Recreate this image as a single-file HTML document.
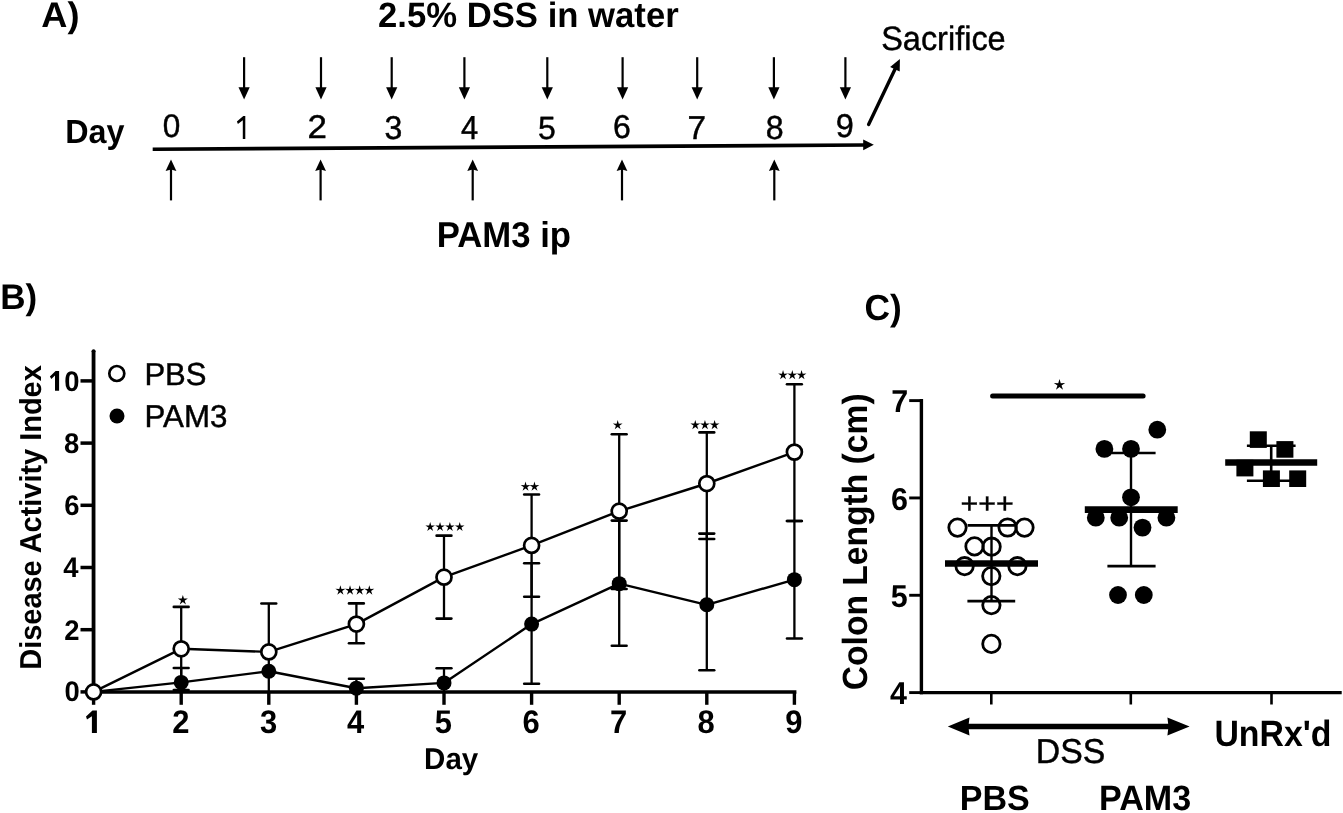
<!DOCTYPE html>
<html><head><meta charset="utf-8"><title>Figure</title>
<style>html,body{margin:0;padding:0;background:#fff;overflow:hidden}svg{display:block;will-change:transform}text{text-rendering:geometricPrecision;font-family:"Liberation Sans", sans-serif;fill:#000}</style>
</head><body>
<svg width="1343" height="813" viewBox="0 0 1343 813">
<defs><filter id="bl" x="-20%" y="-20%" width="140%" height="140%"><feGaussianBlur stdDeviation="0.5"/></filter></defs>
<rect width="1343" height="813" fill="#fff"/>
<line x1="152.70" y1="149.28" x2="865.00" y2="145.01" stroke="#000" stroke-width="3.6" stroke-linecap="butt"/>
<polygon points="873.80,144.80 863.20,139.40 863.20,150.20" fill="#000"/>
<line x1="244.10" y1="57.20" x2="244.10" y2="90.00" stroke="#000" stroke-width="2.2" stroke-linecap="butt"/>
<polygon points="238.50,87.30 249.70,87.30 244.10,99.60" fill="#000"/>
<line x1="321.00" y1="57.20" x2="321.00" y2="90.00" stroke="#000" stroke-width="2.2" stroke-linecap="butt"/>
<polygon points="315.40,87.30 326.60,87.30 321.00,99.60" fill="#000"/>
<line x1="391.70" y1="57.20" x2="391.70" y2="90.00" stroke="#000" stroke-width="2.2" stroke-linecap="butt"/>
<polygon points="386.10,87.30 397.30,87.30 391.70,99.60" fill="#000"/>
<line x1="464.40" y1="57.20" x2="464.40" y2="90.00" stroke="#000" stroke-width="2.2" stroke-linecap="butt"/>
<polygon points="458.80,87.30 470.00,87.30 464.40,99.60" fill="#000"/>
<line x1="547.30" y1="57.20" x2="547.30" y2="90.00" stroke="#000" stroke-width="2.2" stroke-linecap="butt"/>
<polygon points="541.70,87.30 552.90,87.30 547.30,99.60" fill="#000"/>
<line x1="622.60" y1="57.20" x2="622.60" y2="90.00" stroke="#000" stroke-width="2.2" stroke-linecap="butt"/>
<polygon points="617.00,87.30 628.20,87.30 622.60,99.60" fill="#000"/>
<line x1="697.20" y1="57.20" x2="697.20" y2="90.00" stroke="#000" stroke-width="2.2" stroke-linecap="butt"/>
<polygon points="691.60,87.30 702.80,87.30 697.20,99.60" fill="#000"/>
<line x1="773.90" y1="57.20" x2="773.90" y2="90.00" stroke="#000" stroke-width="2.2" stroke-linecap="butt"/>
<polygon points="768.30,87.30 779.50,87.30 773.90,99.60" fill="#000"/>
<line x1="845.40" y1="57.20" x2="845.40" y2="90.00" stroke="#000" stroke-width="2.2" stroke-linecap="butt"/>
<polygon points="839.80,87.30 851.00,87.30 845.40,99.60" fill="#000"/>
<line x1="171.00" y1="168.00" x2="171.00" y2="200.40" stroke="#000" stroke-width="2.2" stroke-linecap="butt"/>
<polygon points="165.60,171.00 171.00,169.60 176.40,171.00 171.00,159.40" fill="#000"/>
<line x1="320.60" y1="168.00" x2="320.60" y2="200.40" stroke="#000" stroke-width="2.2" stroke-linecap="butt"/>
<polygon points="315.20,171.00 320.60,169.60 326.00,171.00 320.60,159.40" fill="#000"/>
<line x1="472.70" y1="168.00" x2="472.70" y2="200.40" stroke="#000" stroke-width="2.2" stroke-linecap="butt"/>
<polygon points="467.30,171.00 472.70,169.60 478.10,171.00 472.70,159.40" fill="#000"/>
<line x1="622.00" y1="168.00" x2="622.00" y2="200.40" stroke="#000" stroke-width="2.2" stroke-linecap="butt"/>
<polygon points="616.60,171.00 622.00,169.60 627.40,171.00 622.00,159.40" fill="#000"/>
<line x1="774.30" y1="168.00" x2="774.30" y2="200.40" stroke="#000" stroke-width="2.2" stroke-linecap="butt"/>
<polygon points="768.90,171.00 774.30,169.60 779.70,171.00 774.30,159.40" fill="#000"/>
<line x1="868.60" y1="124.40" x2="895.80" y2="67.47" stroke="#000" stroke-width="3.4" stroke-linecap="round"/>
<polygon points="899.90,58.90 899.72,71.56 890.16,66.99" fill="#000"/>
<polygon points="245.30,115.90 245.30,139.10 242.80,139.10 242.80,120.30 237.90,123.90 236.90,121.60 243.30,115.90" fill="#000"/>
<line x1="93.55" y1="350.50" x2="93.55" y2="693.60" stroke="#000" stroke-width="3.8" stroke-linecap="butt"/>
<circle cx="93.55" cy="351.2" r="1.9" fill="#000"/>
<line x1="91.70" y1="692.00" x2="796.40" y2="692.00" stroke="#000" stroke-width="3.4" stroke-linecap="butt"/>
<line x1="80.50" y1="691.90" x2="93.55" y2="691.90" stroke="#000" stroke-width="3.5" stroke-linecap="butt"/>
<line x1="80.50" y1="629.70" x2="93.55" y2="629.70" stroke="#000" stroke-width="3.5" stroke-linecap="butt"/>
<line x1="80.50" y1="567.50" x2="93.55" y2="567.50" stroke="#000" stroke-width="3.5" stroke-linecap="butt"/>
<line x1="80.50" y1="505.30" x2="93.55" y2="505.30" stroke="#000" stroke-width="3.5" stroke-linecap="butt"/>
<line x1="80.50" y1="443.10" x2="93.55" y2="443.10" stroke="#000" stroke-width="3.5" stroke-linecap="butt"/>
<line x1="80.50" y1="380.90" x2="93.55" y2="380.90" stroke="#000" stroke-width="3.5" stroke-linecap="butt"/>
<line x1="93.60" y1="692.00" x2="93.60" y2="704.80" stroke="#000" stroke-width="3.4" stroke-linecap="butt"/>
<line x1="181.20" y1="692.00" x2="181.20" y2="704.80" stroke="#000" stroke-width="3.4" stroke-linecap="butt"/>
<line x1="268.80" y1="692.00" x2="268.80" y2="704.80" stroke="#000" stroke-width="3.4" stroke-linecap="butt"/>
<line x1="356.40" y1="692.00" x2="356.40" y2="704.80" stroke="#000" stroke-width="3.4" stroke-linecap="butt"/>
<line x1="444.00" y1="692.00" x2="444.00" y2="704.80" stroke="#000" stroke-width="3.4" stroke-linecap="butt"/>
<line x1="531.60" y1="692.00" x2="531.60" y2="704.80" stroke="#000" stroke-width="3.4" stroke-linecap="butt"/>
<line x1="619.20" y1="692.00" x2="619.20" y2="704.80" stroke="#000" stroke-width="3.4" stroke-linecap="butt"/>
<line x1="706.80" y1="692.00" x2="706.80" y2="704.80" stroke="#000" stroke-width="3.4" stroke-linecap="butt"/>
<line x1="794.40" y1="692.00" x2="794.40" y2="704.80" stroke="#000" stroke-width="3.4" stroke-linecap="butt"/>
<polygon points="59.10,371.00 59.10,390.70 55.00,390.70 55.00,375.60 51.30,379.00 49.90,376.60 55.60,371.00" fill="#000"/>
<polygon points="96.90,710.50 96.90,733.10 91.90,733.10 91.90,716.30 87.00,719.50 86.00,716.50 92.50,710.50" fill="#000"/>
<circle cx="116.80" cy="373.50" r="7.5" fill="#fff" stroke="#000" stroke-width="2.7"/>
<circle cx="117.00" cy="416.00" r="7.5" fill="#000"/>
<line x1="181.20" y1="648.80" x2="181.20" y2="606.90" stroke="#000" stroke-width="2.3" stroke-linecap="butt"/>
<line x1="173.80" y1="606.90" x2="188.60" y2="606.90" stroke="#000" stroke-width="2.6" stroke-linecap="round"/>
<line x1="181.20" y1="648.80" x2="181.20" y2="690.00" stroke="#000" stroke-width="2.3" stroke-linecap="butt"/>
<line x1="173.80" y1="690.00" x2="188.60" y2="690.00" stroke="#000" stroke-width="2.6" stroke-linecap="round"/>
<line x1="181.20" y1="682.41" x2="181.20" y2="668.00" stroke="#000" stroke-width="2.3" stroke-linecap="butt"/>
<line x1="173.80" y1="668.00" x2="188.60" y2="668.00" stroke="#000" stroke-width="2.6" stroke-linecap="round"/>
<line x1="268.80" y1="651.91" x2="268.80" y2="603.50" stroke="#000" stroke-width="2.3" stroke-linecap="butt"/>
<line x1="261.40" y1="603.50" x2="276.20" y2="603.50" stroke="#000" stroke-width="2.6" stroke-linecap="round"/>
<line x1="356.40" y1="624.10" x2="356.40" y2="603.40" stroke="#000" stroke-width="2.3" stroke-linecap="butt"/>
<line x1="349.00" y1="603.40" x2="363.80" y2="603.40" stroke="#000" stroke-width="2.6" stroke-linecap="round"/>
<line x1="356.40" y1="624.10" x2="356.40" y2="643.30" stroke="#000" stroke-width="2.3" stroke-linecap="butt"/>
<line x1="349.00" y1="643.30" x2="363.80" y2="643.30" stroke="#000" stroke-width="2.6" stroke-linecap="round"/>
<line x1="356.40" y1="688.17" x2="356.40" y2="678.80" stroke="#000" stroke-width="2.3" stroke-linecap="butt"/>
<line x1="349.00" y1="678.80" x2="363.80" y2="678.80" stroke="#000" stroke-width="2.6" stroke-linecap="round"/>
<line x1="444.00" y1="577.14" x2="444.00" y2="535.65" stroke="#000" stroke-width="2.3" stroke-linecap="butt"/>
<line x1="436.60" y1="535.65" x2="451.40" y2="535.65" stroke="#000" stroke-width="2.6" stroke-linecap="round"/>
<line x1="444.00" y1="577.14" x2="444.00" y2="618.60" stroke="#000" stroke-width="2.3" stroke-linecap="butt"/>
<line x1="436.60" y1="618.60" x2="451.40" y2="618.60" stroke="#000" stroke-width="2.6" stroke-linecap="round"/>
<line x1="444.00" y1="682.88" x2="444.00" y2="668.30" stroke="#000" stroke-width="2.3" stroke-linecap="butt"/>
<line x1="436.60" y1="668.30" x2="451.40" y2="668.30" stroke="#000" stroke-width="2.6" stroke-linecap="round"/>
<line x1="531.60" y1="545.42" x2="531.60" y2="494.50" stroke="#000" stroke-width="2.3" stroke-linecap="butt"/>
<line x1="524.20" y1="494.50" x2="539.00" y2="494.50" stroke="#000" stroke-width="2.6" stroke-linecap="round"/>
<line x1="531.60" y1="545.42" x2="531.60" y2="596.80" stroke="#000" stroke-width="2.3" stroke-linecap="butt"/>
<line x1="524.20" y1="596.80" x2="539.00" y2="596.80" stroke="#000" stroke-width="2.6" stroke-linecap="round"/>
<line x1="531.60" y1="624.10" x2="531.60" y2="563.20" stroke="#000" stroke-width="2.3" stroke-linecap="butt"/>
<line x1="524.20" y1="563.20" x2="539.00" y2="563.20" stroke="#000" stroke-width="2.6" stroke-linecap="round"/>
<line x1="531.60" y1="624.10" x2="531.60" y2="683.80" stroke="#000" stroke-width="2.3" stroke-linecap="butt"/>
<line x1="524.20" y1="683.80" x2="539.00" y2="683.80" stroke="#000" stroke-width="2.6" stroke-linecap="round"/>
<line x1="619.20" y1="511.21" x2="619.20" y2="434.30" stroke="#000" stroke-width="2.3" stroke-linecap="butt"/>
<line x1="611.80" y1="434.30" x2="626.60" y2="434.30" stroke="#000" stroke-width="2.6" stroke-linecap="round"/>
<line x1="619.20" y1="511.21" x2="619.20" y2="589.00" stroke="#000" stroke-width="2.3" stroke-linecap="butt"/>
<line x1="611.80" y1="589.00" x2="626.60" y2="589.00" stroke="#000" stroke-width="2.6" stroke-linecap="round"/>
<line x1="619.20" y1="583.67" x2="619.20" y2="520.60" stroke="#000" stroke-width="2.3" stroke-linecap="butt"/>
<line x1="611.80" y1="520.60" x2="626.60" y2="520.60" stroke="#000" stroke-width="2.6" stroke-linecap="round"/>
<line x1="619.20" y1="583.67" x2="619.20" y2="645.70" stroke="#000" stroke-width="2.3" stroke-linecap="butt"/>
<line x1="611.80" y1="645.70" x2="626.60" y2="645.70" stroke="#000" stroke-width="2.6" stroke-linecap="round"/>
<line x1="706.80" y1="483.53" x2="706.80" y2="432.40" stroke="#000" stroke-width="2.3" stroke-linecap="butt"/>
<line x1="699.40" y1="432.40" x2="714.20" y2="432.40" stroke="#000" stroke-width="2.6" stroke-linecap="round"/>
<line x1="706.80" y1="483.53" x2="706.80" y2="539.00" stroke="#000" stroke-width="2.3" stroke-linecap="butt"/>
<line x1="699.40" y1="539.00" x2="714.20" y2="539.00" stroke="#000" stroke-width="2.6" stroke-linecap="round"/>
<line x1="706.80" y1="604.82" x2="706.80" y2="533.60" stroke="#000" stroke-width="2.3" stroke-linecap="butt"/>
<line x1="699.40" y1="533.60" x2="714.20" y2="533.60" stroke="#000" stroke-width="2.6" stroke-linecap="round"/>
<line x1="706.80" y1="604.82" x2="706.80" y2="670.30" stroke="#000" stroke-width="2.3" stroke-linecap="butt"/>
<line x1="699.40" y1="670.30" x2="714.20" y2="670.30" stroke="#000" stroke-width="2.6" stroke-linecap="round"/>
<line x1="794.40" y1="452.12" x2="794.40" y2="384.30" stroke="#000" stroke-width="2.3" stroke-linecap="butt"/>
<line x1="787.00" y1="384.30" x2="801.80" y2="384.30" stroke="#000" stroke-width="2.6" stroke-linecap="round"/>
<line x1="794.40" y1="452.12" x2="794.40" y2="521.00" stroke="#000" stroke-width="2.3" stroke-linecap="butt"/>
<line x1="787.00" y1="521.00" x2="801.80" y2="521.00" stroke="#000" stroke-width="2.6" stroke-linecap="round"/>
<line x1="794.40" y1="579.63" x2="794.40" y2="521.00" stroke="#000" stroke-width="2.3" stroke-linecap="butt"/>
<line x1="787.00" y1="521.00" x2="801.80" y2="521.00" stroke="#000" stroke-width="2.6" stroke-linecap="round"/>
<line x1="794.40" y1="579.63" x2="794.40" y2="638.50" stroke="#000" stroke-width="2.3" stroke-linecap="butt"/>
<line x1="787.00" y1="638.50" x2="801.80" y2="638.50" stroke="#000" stroke-width="2.6" stroke-linecap="round"/>
<line x1="268.80" y1="671.19" x2="268.80" y2="651.47" stroke="#000" stroke-width="2.3" stroke-linecap="butt"/>
<line x1="181.20" y1="682.41" x2="181.20" y2="692.00" stroke="#000" stroke-width="2.3" stroke-linecap="butt"/>
<line x1="268.80" y1="671.19" x2="268.80" y2="692.00" stroke="#000" stroke-width="2.3" stroke-linecap="butt"/>
<line x1="356.40" y1="688.17" x2="356.40" y2="692.00" stroke="#000" stroke-width="2.3" stroke-linecap="butt"/>
<line x1="444.00" y1="682.88" x2="444.00" y2="692.00" stroke="#000" stroke-width="2.3" stroke-linecap="butt"/>
<polyline points="93.6,691.9 181.2,682.4 268.8,671.2 356.4,688.2 444.0,682.9 531.6,624.1 619.2,583.7 706.8,604.8 794.4,579.6" fill="none" stroke="#000" stroke-width="2.4" stroke-linejoin="round"/>
<polyline points="93.6,691.9 181.2,648.8 268.8,651.9 356.4,624.1 444.0,577.1 531.6,545.4 619.2,511.2 706.8,483.5 794.4,452.1" fill="none" stroke="#000" stroke-width="2.4" stroke-linejoin="round"/>
<circle cx="93.60" cy="691.90" r="7.5" fill="#000"/>
<circle cx="181.20" cy="682.41" r="7.5" fill="#000"/>
<circle cx="268.80" cy="671.19" r="7.5" fill="#000"/>
<circle cx="356.40" cy="688.17" r="7.5" fill="#000"/>
<circle cx="444.00" cy="682.88" r="7.5" fill="#000"/>
<circle cx="531.60" cy="624.10" r="7.5" fill="#000"/>
<circle cx="619.20" cy="583.67" r="7.5" fill="#000"/>
<circle cx="706.80" cy="604.82" r="7.5" fill="#000"/>
<circle cx="794.40" cy="579.63" r="7.5" fill="#000"/>
<circle cx="93.60" cy="691.90" r="7.5" fill="#fff" stroke="#000" stroke-width="2.7"/>
<circle cx="181.20" cy="648.80" r="7.5" fill="#fff" stroke="#000" stroke-width="2.7"/>
<circle cx="268.80" cy="651.91" r="7.5" fill="#fff" stroke="#000" stroke-width="2.7"/>
<circle cx="356.40" cy="624.10" r="7.5" fill="#fff" stroke="#000" stroke-width="2.7"/>
<circle cx="444.00" cy="577.14" r="7.5" fill="#fff" stroke="#000" stroke-width="2.7"/>
<circle cx="531.60" cy="545.42" r="7.5" fill="#fff" stroke="#000" stroke-width="2.7"/>
<circle cx="619.20" cy="511.21" r="7.5" fill="#fff" stroke="#000" stroke-width="2.7"/>
<circle cx="706.80" cy="483.53" r="7.5" fill="#fff" stroke="#000" stroke-width="2.7"/>
<circle cx="794.40" cy="452.12" r="7.5" fill="#fff" stroke="#000" stroke-width="2.7"/>
<line x1="921.40" y1="398.90" x2="921.40" y2="694.20" stroke="#000" stroke-width="3.4" stroke-linecap="butt"/>
<line x1="919.80" y1="692.60" x2="1341.70" y2="692.60" stroke="#000" stroke-width="3.3" stroke-linecap="butt"/>
<line x1="909.20" y1="692.60" x2="921.40" y2="692.60" stroke="#000" stroke-width="2.9" stroke-linecap="butt"/>
<line x1="909.20" y1="595.27" x2="921.40" y2="595.27" stroke="#000" stroke-width="2.9" stroke-linecap="butt"/>
<line x1="909.20" y1="497.94" x2="921.40" y2="497.94" stroke="#000" stroke-width="2.9" stroke-linecap="butt"/>
<line x1="909.20" y1="400.61" x2="921.40" y2="400.61" stroke="#000" stroke-width="2.9" stroke-linecap="butt"/>
<line x1="991.30" y1="692.60" x2="991.30" y2="704.50" stroke="#000" stroke-width="2.6" stroke-linecap="butt"/>
<line x1="1130.80" y1="692.60" x2="1130.80" y2="704.50" stroke="#000" stroke-width="2.6" stroke-linecap="butt"/>
<line x1="1271.50" y1="692.60" x2="1271.50" y2="704.50" stroke="#000" stroke-width="2.6" stroke-linecap="butt"/>
<line x1="966.00" y1="726.50" x2="1171.00" y2="726.50" stroke="#000" stroke-width="5.4" stroke-linecap="butt"/>
<polygon points="947.80,726.50 969.50,717.60 968.40,726.50 969.50,735.40" fill="#000"/>
<polygon points="1189.60,726.50 1167.40,717.50 1168.50,726.50 1167.40,735.50" fill="#000"/>
<line x1="992.60" y1="396.10" x2="1143.10" y2="396.10" stroke="#000" stroke-width="5" stroke-linecap="round"/>
<line x1="991.50" y1="525.40" x2="991.50" y2="601.10" stroke="#000" stroke-width="2.4" stroke-linecap="butt"/>
<line x1="967.60" y1="525.40" x2="1015.20" y2="525.40" stroke="#000" stroke-width="2.6" stroke-linecap="butt"/>
<line x1="967.40" y1="601.10" x2="1015.20" y2="601.10" stroke="#000" stroke-width="2.6" stroke-linecap="butt"/>
<circle cx="957.5" cy="527.6" r="8.7" fill="none" stroke="#000" stroke-width="2.8"/>
<circle cx="1007.6" cy="527.5" r="8.7" fill="none" stroke="#000" stroke-width="2.8"/>
<circle cx="1024.5" cy="527.6" r="8.7" fill="none" stroke="#000" stroke-width="2.8"/>
<circle cx="974.5" cy="546.4" r="8.7" fill="none" stroke="#000" stroke-width="2.8"/>
<circle cx="991.6" cy="546.7" r="8.7" fill="none" stroke="#000" stroke-width="2.8"/>
<circle cx="964.6" cy="566.2" r="8.7" fill="none" stroke="#000" stroke-width="2.8"/>
<circle cx="1017.4" cy="566.2" r="8.7" fill="none" stroke="#000" stroke-width="2.8"/>
<circle cx="991.3" cy="576.1" r="8.7" fill="none" stroke="#000" stroke-width="2.8"/>
<circle cx="991.4" cy="605.1" r="8.7" fill="none" stroke="#000" stroke-width="2.8"/>
<circle cx="991.4" cy="643.9" r="8.7" fill="none" stroke="#000" stroke-width="2.8"/>
<line x1="945.00" y1="563.50" x2="1038.00" y2="563.50" stroke="#000" stroke-width="6.4" stroke-linecap="butt"/>
<line x1="1131.00" y1="453.00" x2="1131.00" y2="566.10" stroke="#000" stroke-width="2.4" stroke-linecap="butt"/>
<line x1="1108.00" y1="453.00" x2="1155.60" y2="453.00" stroke="#000" stroke-width="2.6" stroke-linecap="butt"/>
<line x1="1107.40" y1="566.10" x2="1155.60" y2="566.10" stroke="#000" stroke-width="2.6" stroke-linecap="butt"/>
<circle cx="1157.30" cy="429.70" r="8.9" fill="#000"/>
<circle cx="1104.40" cy="448.90" r="8.9" fill="#000"/>
<circle cx="1131.00" cy="448.90" r="8.9" fill="#000"/>
<circle cx="1131.00" cy="497.30" r="8.9" fill="#000"/>
<circle cx="1095.80" cy="517.70" r="8.9" fill="#000"/>
<circle cx="1119.20" cy="517.70" r="8.9" fill="#000"/>
<circle cx="1166.40" cy="517.70" r="8.9" fill="#000"/>
<circle cx="1142.50" cy="527.60" r="8.9" fill="#000"/>
<circle cx="1118.00" cy="595.00" r="8.9" fill="#000"/>
<circle cx="1143.80" cy="595.00" r="8.9" fill="#000"/>
<line x1="1084.80" y1="509.60" x2="1177.70" y2="509.60" stroke="#000" stroke-width="6.9" stroke-linecap="butt"/>
<line x1="1271.20" y1="445.80" x2="1271.20" y2="480.80" stroke="#000" stroke-width="2.6" stroke-linecap="butt"/>
<line x1="1246.90" y1="445.80" x2="1295.60" y2="445.80" stroke="#000" stroke-width="2.6" stroke-linecap="butt"/>
<line x1="1246.90" y1="480.80" x2="1296.00" y2="480.80" stroke="#000" stroke-width="2.6" stroke-linecap="butt"/>
<rect x="1249.8" y="431.3" width="17" height="16.6" fill="#000"/>
<rect x="1276.4" y="441.1" width="17" height="16.6" fill="#000"/>
<rect x="1236.4" y="459.8" width="17" height="16.6" fill="#000"/>
<rect x="1262.9" y="470.4" width="17" height="16.6" fill="#000"/>
<rect x="1289.2" y="470.4" width="17" height="16.6" fill="#000"/>
<line x1="1225.20" y1="462.50" x2="1317.20" y2="462.50" stroke="#000" stroke-width="6.4" stroke-linecap="butt"/>
<g filter="url(#bl)">
<polygon points="182.85,594.90 183.96,598.62 187.84,598.53 184.65,600.74 185.94,604.40 182.85,602.04 179.76,604.40 181.05,600.74 177.86,598.53 181.74,598.62" fill="#000"/>
<polygon points="340.39,585.20 341.51,588.92 345.39,588.83 342.19,591.04 343.48,594.70 340.39,592.34 337.31,594.70 338.60,591.04 335.40,588.83 339.28,588.92" fill="#000"/>
<polygon points="350.03,585.20 351.14,588.92 355.03,588.83 351.83,591.04 353.12,594.70 350.03,592.34 346.94,594.70 348.23,591.04 345.04,588.83 348.92,588.92" fill="#000"/>
<polygon points="359.67,585.20 360.78,588.92 364.66,588.83 361.47,591.04 362.76,594.70 359.67,592.34 356.58,594.70 357.87,591.04 354.67,588.83 358.56,588.92" fill="#000"/>
<polygon points="369.31,585.20 370.42,588.92 374.30,588.83 371.10,591.04 372.39,594.70 369.31,592.34 366.22,594.70 367.51,591.04 364.31,588.83 368.19,588.92" fill="#000"/>
<polygon points="430.18,522.00 431.25,525.57 434.97,525.48 431.91,527.59 433.14,531.10 430.18,528.84 427.23,531.10 428.46,527.59 425.40,525.48 429.12,525.57" fill="#000"/>
<polygon points="440.03,522.00 441.09,525.57 444.81,525.48 441.75,527.59 442.98,531.10 440.03,528.84 437.07,531.10 438.31,527.59 435.24,525.48 438.96,525.57" fill="#000"/>
<polygon points="449.87,522.00 450.94,525.57 454.66,525.48 451.59,527.59 452.83,531.10 449.87,528.84 446.92,531.10 448.15,527.59 445.09,525.48 448.81,525.57" fill="#000"/>
<polygon points="459.72,522.00 460.78,525.57 464.50,525.48 461.44,527.59 462.67,531.10 459.72,528.84 456.76,531.10 457.99,527.59 454.93,525.48 458.65,525.57" fill="#000"/>
<polygon points="525.54,481.60 526.61,485.20 530.37,485.11 527.28,487.25 528.53,490.80 525.54,488.52 522.55,490.80 523.80,487.25 520.70,485.11 524.46,485.20" fill="#000"/>
<polygon points="534.46,481.60 535.54,485.20 539.30,485.11 536.20,487.25 537.45,490.80 534.46,488.52 531.47,490.80 532.72,487.25 529.63,485.11 533.39,485.20" fill="#000"/>
<polygon points="617.70,420.10 618.78,423.70 622.54,423.61 619.44,425.75 620.69,429.30 617.70,427.02 614.71,429.30 615.96,425.75 612.86,423.61 616.62,423.70" fill="#000"/>
<polygon points="695.29,419.90 696.38,423.54 700.18,423.45 697.05,425.61 698.31,429.20 695.29,426.89 692.27,429.20 693.53,425.61 690.40,423.45 694.20,423.54" fill="#000"/>
<polygon points="704.95,419.90 706.04,423.54 709.84,423.45 706.71,425.61 707.97,429.20 704.95,426.89 701.93,429.20 703.19,425.61 700.06,423.45 703.86,423.54" fill="#000"/>
<polygon points="714.61,419.90 715.70,423.54 719.50,423.45 716.37,425.61 717.63,429.20 714.61,426.89 711.59,429.20 712.85,425.61 709.72,423.45 713.52,423.54" fill="#000"/>
<polygon points="783.04,370.10 784.11,373.70 787.87,373.61 784.78,375.75 786.03,379.30 783.04,377.02 780.05,379.30 781.30,375.75 778.20,373.61 781.96,373.70" fill="#000"/>
<polygon points="792.30,370.10 793.38,373.70 797.14,373.61 794.04,375.75 795.29,379.30 792.30,377.02 789.31,379.30 790.56,375.75 787.46,373.61 791.22,373.70" fill="#000"/>
<polygon points="801.56,370.10 802.64,373.70 806.40,373.61 803.30,375.75 804.55,379.30 801.56,377.02 798.57,379.30 799.82,375.75 796.73,373.61 800.49,373.70" fill="#000"/>
<polygon points="1059.50,378.90 1060.76,383.13 1065.18,383.03 1061.54,385.53 1063.01,389.70 1059.50,387.02 1055.99,389.70 1057.46,385.53 1053.82,383.03 1058.24,383.13" fill="#000"/>
</g>
<text x="41.35" y="26.99" font-size="35.490" font-weight="bold" text-anchor="start" textLength="38.17" lengthAdjust="spacingAndGlyphs">A)</text>
<text x="377.99" y="27.38" font-size="35.143" font-weight="bold" text-anchor="start" textLength="300.71" lengthAdjust="spacingAndGlyphs">2.5% DSS in water</text>
<text x="881.16" y="50.28" font-size="33.791" font-weight="normal" text-anchor="start" textLength="124.54" lengthAdjust="spacingAndGlyphs" stroke="#000" stroke-width="0.45">Sacrifice</text>
<text x="65.19" y="142.78" font-size="33.527" font-weight="bold" text-anchor="start" textLength="59.29" lengthAdjust="spacingAndGlyphs">Day</text>
<text x="171.40" y="136.63" font-size="32.769" font-weight="normal" text-anchor="middle" textLength="17.54" lengthAdjust="spacingAndGlyphs" stroke="#000" stroke-width="0.45">0</text>
<text x="317.28" y="138.33" font-size="32.920" font-weight="normal" text-anchor="middle" textLength="19.44" lengthAdjust="spacingAndGlyphs" stroke="#000" stroke-width="0.45">2</text>
<text x="393.37" y="138.52" font-size="32.936" font-weight="normal" text-anchor="middle" textLength="17.81" lengthAdjust="spacingAndGlyphs" stroke="#000" stroke-width="0.45">3</text>
<text x="469.60" y="138.88" font-size="33.298" font-weight="normal" text-anchor="middle" textLength="17.17" lengthAdjust="spacingAndGlyphs" stroke="#000" stroke-width="0.45">4</text>
<text x="546.92" y="138.91" font-size="32.180" font-weight="normal" text-anchor="middle" textLength="17.79" lengthAdjust="spacingAndGlyphs" stroke="#000" stroke-width="0.45">5</text>
<text x="621.92" y="138.48" font-size="33.132" font-weight="normal" text-anchor="middle" textLength="17.81" lengthAdjust="spacingAndGlyphs" stroke="#000" stroke-width="0.45">6</text>
<text x="696.82" y="138.89" font-size="33.099" font-weight="normal" text-anchor="middle" textLength="18.52" lengthAdjust="spacingAndGlyphs" stroke="#000" stroke-width="0.45">7</text>
<text x="774.66" y="138.64" font-size="33.280" font-weight="normal" text-anchor="middle" textLength="17.90" lengthAdjust="spacingAndGlyphs" stroke="#000" stroke-width="0.45">8</text>
<text x="844.83" y="136.85" font-size="32.867" font-weight="normal" text-anchor="middle" textLength="18.01" lengthAdjust="spacingAndGlyphs" stroke="#000" stroke-width="0.45">9</text>
<text x="436.66" y="246.76" font-size="35.926" font-weight="bold" text-anchor="start" textLength="134.32" lengthAdjust="spacingAndGlyphs">PAM3 ip</text>
<text x="0.25" y="309.39" font-size="35.490" font-weight="bold" text-anchor="start" textLength="37.03" lengthAdjust="spacingAndGlyphs">B)</text>
<text x="144.39" y="384.52" font-size="31.802" font-weight="normal" text-anchor="start" textLength="62.14" lengthAdjust="spacingAndGlyphs" stroke="#000" stroke-width="0.45">PBS</text>
<text x="144.50" y="426.77" font-size="31.517" font-weight="normal" text-anchor="start" textLength="82.92" lengthAdjust="spacingAndGlyphs" stroke="#000" stroke-width="0.45">PAM3</text>
<text x="451.17" y="769.38" font-size="30.017" font-weight="bold" text-anchor="middle" textLength="54.17" lengthAdjust="spacingAndGlyphs">Day</text>
<text x="0" y="0" transform="translate(41.00,517.47) rotate(-90)" font-size="30.272" font-weight="bold" text-anchor="middle" textLength="304.39" lengthAdjust="spacingAndGlyphs">Disease Activity Index</text>
<text x="79.22" y="452.62" font-size="28.295" font-weight="bold" text-anchor="end" textLength="15.26" lengthAdjust="spacingAndGlyphs">8</text>
<text x="79.65" y="701.18" font-size="28.295" font-weight="bold" text-anchor="end" textLength="15.26" lengthAdjust="spacingAndGlyphs">0</text>
<text x="79.53" y="639.81" font-size="28.295" font-weight="bold" text-anchor="end" textLength="15.26" lengthAdjust="spacingAndGlyphs">2</text>
<text x="78.61" y="576.99" font-size="28.295" font-weight="bold" text-anchor="end" textLength="15.26" lengthAdjust="spacingAndGlyphs">4</text>
<text x="79.40" y="515.38" font-size="28.295" font-weight="bold" text-anchor="end" textLength="15.26" lengthAdjust="spacingAndGlyphs">6</text>
<text x="79.61" y="390.77" font-size="28.295" font-weight="bold" text-anchor="end" textLength="15.26" lengthAdjust="spacingAndGlyphs">0</text>
<text x="443.36" y="733.00" font-size="32.677" font-weight="bold" text-anchor="middle" textLength="17.21" lengthAdjust="spacingAndGlyphs">5</text>
<text x="180.76" y="733.49" font-size="32.677" font-weight="bold" text-anchor="middle" textLength="17.21" lengthAdjust="spacingAndGlyphs">2</text>
<text x="268.49" y="733.25" font-size="32.677" font-weight="bold" text-anchor="middle" textLength="17.21" lengthAdjust="spacingAndGlyphs">3</text>
<text x="355.64" y="733.29" font-size="32.677" font-weight="bold" text-anchor="middle" textLength="17.21" lengthAdjust="spacingAndGlyphs">4</text>
<text x="531.03" y="733.30" font-size="32.677" font-weight="bold" text-anchor="middle" textLength="17.21" lengthAdjust="spacingAndGlyphs">6</text>
<text x="618.62" y="733.29" font-size="32.677" font-weight="bold" text-anchor="middle" textLength="17.21" lengthAdjust="spacingAndGlyphs">7</text>
<text x="706.15" y="733.26" font-size="32.677" font-weight="bold" text-anchor="middle" textLength="17.21" lengthAdjust="spacingAndGlyphs">8</text>
<text x="793.76" y="733.27" font-size="32.677" font-weight="bold" text-anchor="middle" textLength="17.21" lengthAdjust="spacingAndGlyphs">9</text>
<text x="908.00" y="509.56" font-size="31.664" font-weight="bold" text-anchor="end" textLength="16.94" lengthAdjust="spacingAndGlyphs">6</text>
<text x="908.12" y="411.96" font-size="31.664" font-weight="bold" text-anchor="end" textLength="16.94" lengthAdjust="spacingAndGlyphs">7</text>
<text x="907.74" y="606.72" font-size="31.664" font-weight="bold" text-anchor="end" textLength="16.94" lengthAdjust="spacingAndGlyphs">5</text>
<text x="907.05" y="703.93" font-size="31.664" font-weight="bold" text-anchor="end" textLength="16.94" lengthAdjust="spacingAndGlyphs">4</text>
<text x="864.59" y="319.52" font-size="36.280" font-weight="bold" text-anchor="start" textLength="37.28" lengthAdjust="spacingAndGlyphs">C)</text>
<text x="1070.59" y="762.96" font-size="34.587" font-weight="normal" text-anchor="middle" textLength="69.51" lengthAdjust="spacingAndGlyphs" stroke="#000" stroke-width="0.45">DSS</text>
<text x="1272.96" y="746.32" font-size="36.594" font-weight="bold" text-anchor="middle" textLength="117.05" lengthAdjust="spacingAndGlyphs">UnRx'd</text>
<text x="994.71" y="809.70" font-size="35.039" font-weight="bold" text-anchor="middle" textLength="70.03" lengthAdjust="spacingAndGlyphs">PBS</text>
<text x="1145.14" y="809.67" font-size="35.080" font-weight="bold" text-anchor="middle" textLength="92.17" lengthAdjust="spacingAndGlyphs">PAM3</text>
<text x="0" y="0" transform="translate(867.30,541.84) rotate(-90)" font-size="34.998" font-weight="bold" text-anchor="middle" textLength="296.85" lengthAdjust="spacingAndGlyphs">Colon Length (cm)</text>
<text x="987.02" y="513.41" font-size="28.724" font-weight="normal" text-anchor="middle" textLength="53.29" lengthAdjust="spacingAndGlyphs" stroke="#000" stroke-width="0.4">+++</text>
</svg>
</body></html>
